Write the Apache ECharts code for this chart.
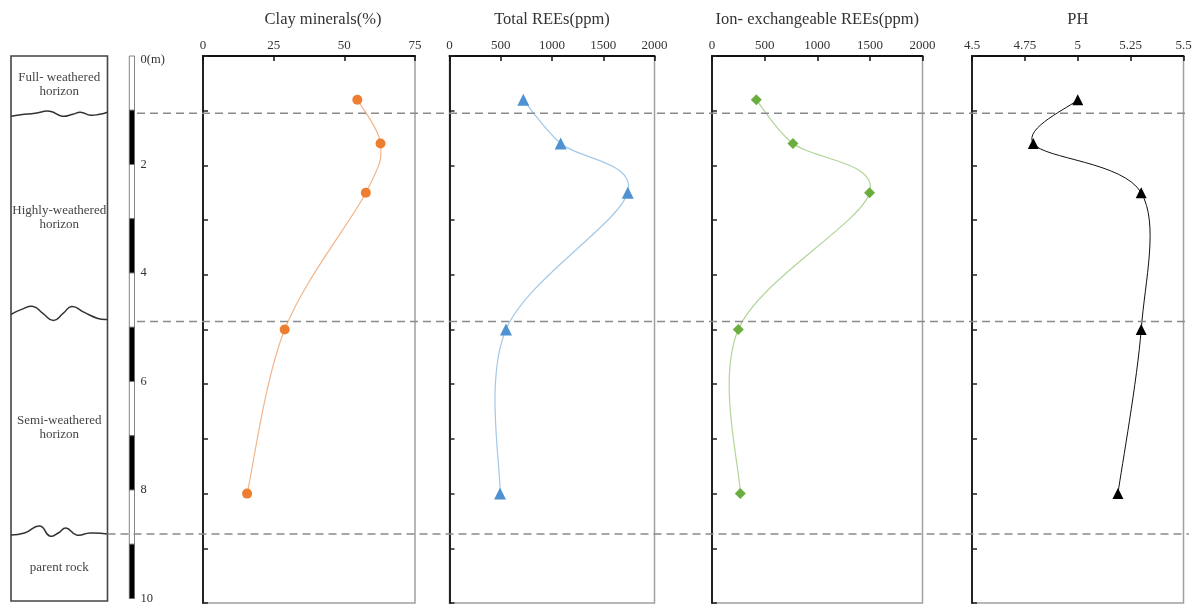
<!DOCTYPE html>
<html>
<head>
<meta charset="utf-8">
<script src="https://cdn.jsdelivr.net/npm/echarts@6/dist/echarts.min.js"></script>
<style>
  html, body { margin: 0; padding: 0; background: #fff; }
  #chart { width: 1195px; height: 605px; }
</style>
</head>
<body>
<div id="chart"></div>
<script>
// ---------------- data ----------------
const sampleDepths = [0.8, 1.6, 2.5, 5.0, 8.0];          // m
const clayMinerals = [54.6, 62.8, 57.6, 28.9, 15.6];     // %
const totalREEs = [720, 1085, 1739, 551, 493];           // ppm
const ionREEs = [421, 769, 1497, 250, 269];              // ppm
const phValues = [5.0, 4.79, 5.3, 5.3, 5.19];

const panelTitles = ['Clay minerals(%)', 'Total REEs(ppm)', 'Ion- exchangeable REEs(ppm)', 'PH'];
const panelMin = [0, 0, 0, 4.5];
const panelMax = [75, 2000, 2000, 5.5];
const panelStep = [25, 500, 500, 0.25];

const horizonNames = ['Full- weathered\nhorizon', 'Highly-weathered\nhorizon', 'Semi-weathered\nhorizon', 'parent rock'];
const horizonBoundaries = [1.05, 4.87, 8.77];           // m
const depthMin = 0, depthMax = 10;
const scaleSegments = [0, 1, 2, 3, 4, 5, 6, 7, 8, 9];   // 1 m blocks of the depth bar

// ---------------- styles ----------------
const SERIF = "'Liberation Serif', 'DejaVu Serif', serif";
const TOP = 56, H = 547;
const panelGrids = [
  { left: 203, width: 212 },
  { left: 449.5, width: 205 },
  { left: 712, width: 210.5 },
  { left: 972, width: 211.5 }
];
const seriesStyles = [
  { symbol: 'circle', size: 10, mark: '#ED7D31', line: '#F2B58A', width: 1.2 },
  { symbol: 'triangle', size: 12, mark: '#4E92D2', line: '#A3C8E8', width: 1.2 },
  { symbol: 'diamond', size: 11, mark: '#6AAE40', line: '#B2D59A', width: 1.2 },
  { symbol: 'triangle', size: 11, mark: '#000000', line: '#111111', width: 1 }
];
const seriesValues = [clayMinerals, totalREEs, ionREEs, phValues];

// wave shapes of horizon boundaries in the lithology column: [fraction of width, pixel offset]
const waveShapes = [
  [[0, 3], [0.1, 1.5], [0.25, 0], [0.4, -2], [0.53, 3], [0.64, 1], [0.72, -1], [0.82, 2], [0.92, 1], [1, -1]],
  [[0, -7], [0.11, -12], [0.23, -15], [0.33, -8], [0.44, -1], [0.54, -8], [0.63, -15], [0.76, -9], [0.9, -3], [1, -2]],
  [[0, 1], [0.14, -1], [0.3, -8], [0.4, 2], [0.49, -1], [0.57, -6], [0.68, 1], [0.82, -1], [1, 0]]
];

const chart = echarts.init(document.getElementById('chart'), null, { renderer: 'canvas' });

const grids = [];
const xAxes = [];
const yAxes = [];
const series = [];

// panels 0..3
panelGrids.forEach((g, i) => {
  grids.push({ left: g.left, top: TOP, width: g.width, height: H, show: true,
    borderColor: '#a0a0a0', borderWidth: 1.5, backgroundColor: 'transparent' });
  xAxes.push({
    gridIndex: i, type: 'value', position: 'top',
    min: panelMin[i], max: panelMax[i], interval: panelStep[i],
    name: panelTitles[i], nameLocation: 'middle', nameGap: 28,
    nameTextStyle: { fontFamily: SERIF, fontSize: 16.5, color: '#333', padding: i === 0 ? [0, 0, 0, 28] : 0 },
    axisLine: { show: true, onZero: false, lineStyle: { color: '#111', width: 2 } },
    axisTick: { show: true, inside: true, length: 5, lineStyle: { color: '#111', width: 1.5 } },
    axisLabel: { show: true, margin: 4, fontFamily: SERIF, fontSize: 13, color: '#333',
      showMinLabel: true, showMaxLabel: true, hideOverlap: false, formatter: v => String(v) },
    splitLine: { show: false }
  });
  yAxes.push({
    gridIndex: i, type: 'value', inverse: true, min: depthMin, max: depthMax, interval: 1,
    axisLine: { show: true, onZero: false, lineStyle: { color: '#222', width: 2 } },
    axisTick: { show: true, inside: true, length: 5, lineStyle: { color: '#222', width: 1.5 } },
    axisLabel: { show: false },
    splitLine: { show: false }
  });
  const st = seriesStyles[i];
  const vals = seriesValues[i];
  const n = vals.length;
  // smooth profile curve (Catmull-Rom segments between the measured points, through the axes' scales)
  series.push({
    type: 'custom', xAxisIndex: i, yAxisIndex: i, clip: false,
    data: vals.slice(0, n - 1).map((v, k) => [v, sampleDepths[k], k]),
    renderItem: (params, api) => {
      const k = api.value(2);
      const P = j => {
        const c = Math.max(0, Math.min(n - 1, j));
        return api.coord([vals[c], sampleDepths[c]]);
      };
      const p0 = P(k - 1), p1 = P(k), p2 = P(k + 1), p3 = P(k + 2);
      return {
        type: 'bezierCurve',
        shape: {
          x1: p1[0], y1: p1[1], x2: p2[0], y2: p2[1],
          cpx1: p1[0] + (p2[0] - p0[0]) / 6, cpy1: p1[1] + (p2[1] - p0[1]) / 6,
          cpx2: p2[0] - (p3[0] - p1[0]) / 6, cpy2: p2[1] - (p3[1] - p1[1]) / 6
        },
        style: { stroke: st.line, lineWidth: st.width, fill: null }
      };
    },
    z: 3
  });
  series.push({
    type: 'scatter', xAxisIndex: i, yAxisIndex: i,
    data: vals.map((v, k) => [v, sampleDepths[k]]),
    symbol: st.symbol, symbolSize: st.size,
    itemStyle: { color: st.mark, opacity: 1 },
    z: 4
  });
});

// lithology column (grid 4)
grids.push({ left: 11, top: TOP, width: 96.5, height: H - 2, show: true,
  borderColor: '#444', borderWidth: 1.6, backgroundColor: 'transparent' });
xAxes.push({ gridIndex: 4, type: 'value', min: 0, max: 1, show: false });
yAxes.push({ gridIndex: 4, type: 'value', inverse: true, min: depthMin, max: depthMax, show: false });

// depth scale bar (grid 5)
grids.push({ left: 129.3, top: TOP, width: 5.2, height: H - 3, show: false });
xAxes.push({ gridIndex: 5, type: 'value', min: 0, max: 1, show: false });
yAxes.push({
  gridIndex: 5, type: 'value', inverse: true, min: depthMin, max: depthMax, interval: 2,
  position: 'right',
  axisLine: { show: false }, axisTick: { show: false }, splitLine: { show: false },
  axisLabel: { show: true, margin: 6, fontFamily: SERIF, fontSize: 12.5, color: '#333',
    showMinLabel: true, showMaxLabel: true,
    formatter: v => (v === 0 ? '{z|0(m)}' : String(v)),
    rich: { z: { fontFamily: SERIF, fontSize: 12.5, color: '#333', padding: [7, 0, 0, 0] } } }
});

// depth bar blocks
series.push({
  type: 'custom', xAxisIndex: 5, yAxisIndex: 5, clip: false,
  data: scaleSegments.map(d => [0, d, d + 1]),
  renderItem: (params, api) => {
    const cs = params.coordSys;
    const y0 = api.coord([0, api.value(1)])[1];
    const y1 = api.coord([0, api.value(2)])[1];
    const dark = (api.value(1) % 2) === 1;
    return {
      type: 'rect',
      shape: { x: cs.x, y: y0, width: cs.width, height: y1 - y0 },
      style: { fill: dark ? '#000' : '#fff', stroke: '#666', lineWidth: 0.8 }
    };
  },
  z: 4
});

// horizon boundaries: wavy lines + dashed lines across the figure
series.push({
  type: 'custom', xAxisIndex: 4, yAxisIndex: 4, clip: false,
  data: horizonBoundaries.map((d, i) => [0, d, i]),
  renderItem: (params, api) => {
    const cs = params.coordSys;
    const idx = api.value(2);
    const y = api.coord([0, api.value(1)])[1];
    const pts = waveShapes[idx].map(p => [cs.x + p[0] * cs.width, y + p[1]]);
    const dashStart = idx === 2 ? cs.x + cs.width : 137;
    return {
      type: 'group',
      children: [
        { type: 'polyline', shape: { points: pts, smooth: 0.5 },
          style: { stroke: '#333', lineWidth: 1.5, fill: null } },
        { type: 'line', shape: { x1: dashStart, y1: y, x2: api.getWidth() - 6, y2: y },
          style: { stroke: '#8a8a8a', lineWidth: 1.5, lineDash: [8, 5] } }
      ]
    };
  },
  z: 10
});

// horizon names
const bounds = [depthMin].concat(horizonBoundaries, [depthMax]);
series.push({
  type: 'custom', xAxisIndex: 4, yAxisIndex: 4, clip: false,
  data: horizonNames.map((nm, i) => [0.5, (bounds[i] + bounds[i + 1]) / 2, i]),
  renderItem: (params, api) => {
    const c = api.coord([api.value(0), api.value(1)]);
    return {
      type: 'text',
      style: { text: horizonNames[api.value(2)], x: c[0], y: c[1], align: 'center', verticalAlign: 'middle',
        font: '13px ' + SERIF, fill: '#444', lineHeight: 14 }
    };
  },
  z: 5
});

chart.setOption({
  animation: false,
  backgroundColor: '#fff',
  grid: grids,
  xAxis: xAxes,
  yAxis: yAxes,
  series: series
});
</script>
</body>
</html>
